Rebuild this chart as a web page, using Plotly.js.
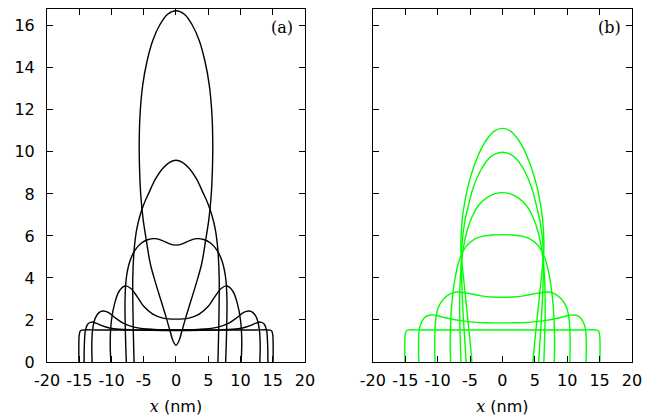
<!DOCTYPE html>
<html><head><meta charset="utf-8">
<script src="https://cdn.plot.ly/plotly-3.0.1.min.js"></script>
<style>html,body{margin:0;padding:0;background:#fff}</style>
</head><body><div id="chart" style="width:660px;height:420px"></div>
<script>
// ---- Panel (a) profiles (black) ----
const a1x = [-15.05,-15.0,-14.85,-14.6,-12,-8,-4,0,4,8,12,14.6,14.85,15.0,15.05];
const a1y = [0,1.3,1.47,1.52,1.52,1.52,1.52,1.52,1.52,1.52,1.52,1.52,1.47,1.3,0];
const a2x = [-14.25,-14.2,-14.05,-13.7,-13.1,-12.4,-11.5,-10.3,-8.8,-7,-4.5,-2,0,2,4.5,7,8.8,10.3,11.5,12.4,13.1,13.7,14.05,14.2,14.25];
const a2y = [0,0.9,1.5,1.8,1.9,1.85,1.73,1.62,1.56,1.53,1.51,1.5,1.5,1.5,1.51,1.53,1.56,1.62,1.73,1.85,1.9,1.8,1.5,0.9,0];
const a3x = [-13.0,-13.05,-12.9,-12.5,-11.9,-11.3,-10.5,-9.5,-8.2,-6.5,-4.5,-2.5,0,2.5,4.5,6.5,8.2,9.5,10.5,11.3,11.9,12.5,12.9,13.05,13.0];
const a3y = [0,0.9,1.6,2.1,2.36,2.43,2.36,2.12,1.85,1.66,1.57,1.54,1.53,1.54,1.57,1.66,1.85,2.12,2.36,2.43,2.36,2.1,1.6,0.9,0];
const a4x = [-10.1,-10.2,-10.0,-9.5,-8.8,-7.9,-7.0,-6.0,-5.0,-3.6,-2.0,0,2.0,3.6,5.0,6.0,7.0,7.9,8.8,9.5,10.0,10.2,10.1];
const a4y = [0,1.0,2.0,2.8,3.38,3.62,3.5,3.1,2.65,2.28,2.09,2.04,2.09,2.28,2.65,3.1,3.5,3.62,3.38,2.8,2.0,1.0,0];
const a5x = [-7.7,-7.85,-7.9,-7.7,-7.2,-6.4,-5.4,-4.3,-3.2,-2.1,-1.0,0,1.0,2.1,3.2,4.3,5.4,6.4,7.2,7.7,7.9,7.85,7.7];
const a5y = [0,1.5,3.0,4.0,4.75,5.3,5.65,5.83,5.87,5.78,5.62,5.56,5.62,5.78,5.87,5.83,5.65,5.3,4.75,4.0,3.0,1.5,0];
const a6x = [-6.5,-6.65,-6.7,-6.5,-6.1,-5.6,-5.0,-4.2,-3.2,-2.1,-1.0,0,1.0,2.1,3.2,4.2,5.0,5.6,6.1,6.5,6.7,6.65,6.5];
const a6y = [0,2.0,4.0,5.3,6.3,6.95,7.5,8.05,8.7,9.2,9.5,9.6,9.5,9.2,8.7,8.05,7.5,6.95,6.3,5.3,4.0,2.0,0];
const a7x = [0,-0.45,-0.9,-1.5,-2.3,-3.2,-4.0,-4.6,-5.1,-5.45,-5.65,-5.7,-5.55,-5.15,-4.5,-3.6,-2.5,-1.3,0,1.3,2.5,3.6,4.5,5.15,5.55,5.7,5.65,5.45,5.1,4.6,4.0,3.2,2.3,1.5,0.9,0.45,0];
const a7y = [0.8,1.0,1.45,2.1,2.9,3.8,4.7,5.8,6.8,7.9,9.2,10.5,11.9,13.2,14.3,15.3,16.05,16.55,16.72,16.55,16.05,15.3,14.3,13.2,11.9,10.5,9.2,7.9,6.8,5.8,4.7,3.8,2.9,2.1,1.45,1.0,0.8];

// ---- Panel (b) profiles (green) ----
const b1x = [-15.05,-15.0,-14.85,-14.6,-12,-8,-4,0,4,8,12,14.6,14.85,15.0,15.05];
const b1y = [0,1.3,1.47,1.52,1.52,1.52,1.52,1.52,1.52,1.52,1.52,1.52,1.47,1.3,0];
const b2x = [-12.9,-12.95,-12.8,-12.4,-11.8,-11.0,-10.0,-8.5,-6.5,-4.5,-2.5,0,2.5,4.5,6.5,8.5,10.0,11.0,11.8,12.4,12.8,12.95,12.9];
const b2y = [0,0.9,1.6,1.95,2.17,2.24,2.2,2.08,1.97,1.9,1.87,1.86,1.87,1.9,1.97,2.08,2.2,2.24,2.17,1.95,1.6,0.9,0];
const b3x = [-10.4,-10.45,-10.3,-9.9,-9.1,-8.0,-7.0,-5.5,-3.5,-1.5,0,1.5,3.5,5.5,7.0,8.0,9.1,9.9,10.3,10.45,10.4];
const b3y = [0,1.0,2.0,2.6,3.0,3.25,3.33,3.28,3.16,3.09,3.08,3.09,3.16,3.28,3.33,3.25,3.0,2.6,2.0,1.0,0];
const b4x = [-8.0,-8.05,-7.8,-7.3,-6.6,-5.6,-4.3,-2.8,-1.3,0,1.3,2.8,4.3,5.6,6.6,7.3,7.8,8.05,8.0];
const b4y = [0,1.2,2.8,4.0,4.9,5.5,5.85,6.0,6.05,6.06,6.05,6.0,5.85,5.5,4.9,4.0,2.8,1.2,0];
const b5x = [-6.4,-6.5,-6.6,-6.5,-6.1,-5.5,-4.7,-3.7,-2.5,-1.2,0,1.2,2.5,3.7,4.7,5.5,6.1,6.5,6.6,6.5,6.4];
const b5y = [0,1.0,2.5,4.0,5.3,6.2,6.9,7.45,7.8,8.0,8.06,8.0,7.8,7.45,6.9,6.2,5.3,4.0,2.5,1.0,0];
const b6x = [-5.6,-5.8,-6.1,-6.3,-6.3,-5.8,-5.2,-4.5,-3.4,-2.2,-1.1,0,1.1,2.2,3.4,4.5,5.2,5.8,6.3,6.3,6.1,5.8,5.6];
const b6y = [0,1.0,2.5,4.0,5.4,6.7,7.5,8.3,9.1,9.65,9.9,9.98,9.9,9.65,9.1,8.3,7.5,6.7,5.4,4.0,2.5,1.0,0];
const b7x = [-4.7,-5.0,-5.5,-6.0,-6.4,-6.2,-5.7,-5.2,-4.4,-3.5,-2.4,-1.2,0,1.2,2.4,3.5,4.4,5.2,5.7,6.2,6.4,6.0,5.5,5.0,4.7];
const b7y = [0,1.0,2.5,4.0,5.4,6.8,7.8,8.5,9.3,10.0,10.6,11.0,11.12,11.0,10.6,10.0,9.3,8.5,7.8,6.8,5.4,4.0,2.5,1.0,0];

// ---- ticks ----
const xTickVals = [-20,-15,-10,-5,0,5,10,15,20];
const xTickText = ['-20','-15','-10','-5','0','5','10','15','20'];
const yTickVals = [0,2,4,6,8,10,12,14,16];
const yTickText = ['0','2','4','6','8','10','12','14','16'];

const aSets = [[a1x,a1y],[a2x,a2y],[a3x,a3y],[a4x,a4y],[a5x,a5y],[a6x,a6y],[a7x,a7y]];
const bSets = [[b1x,b1y],[b2x,b2y],[b3x,b3y],[b4x,b4y],[b5x,b5y],[b6x,b6y],[b7x,b7y]];

const traces = [];
aSets.forEach(s => traces.push({x:s[0], y:s[1], type:'scatter', mode:'lines', xaxis:'x', yaxis:'y',
  line:{color:'#000000', width:1.4, shape:'spline', smoothing:1}, hoverinfo:'skip', showlegend:false}));
bSets.forEach(s => traces.push({x:s[0], y:s[1], type:'scatter', mode:'lines', xaxis:'x2', yaxis:'y2',
  line:{color:'#00ff00', width:1.4, shape:'spline', smoothing:1}, hoverinfo:'skip', showlegend:false}));

const tickFont = {family:'DejaVu Sans', size:16, color:'#000'};
function xAxis(domain, anchor) {
  return {domain:domain, anchor:anchor, range:[-20,20], tickmode:'array', tickvals:xTickVals, ticktext:xTickText,
    ticks:'inside', ticklen:6, tickwidth:1, tickcolor:'#000', mirror:'allticks', showline:true, linecolor:'#000', linewidth:1,
    showgrid:false, zeroline:false, tickfont:tickFont, ticklabelstandoff:4,
    title:{text:'<span style="font-family:DejaVu Serif"><i>x</i></span> (nm)', font:{family:'DejaVu Sans', size:16, color:'#000'}, standoff:11}};
}
function yAxis(anchor, labels) {
  return {domain:[0,1], anchor:anchor, range:[0,16.8], tickmode:'array', tickvals:yTickVals, ticktext:yTickText,
    ticks:'inside', ticklen:6, tickwidth:1, tickcolor:'#000', mirror:'allticks', showline:true, linecolor:'#000', linewidth:1,
    showgrid:false, zeroline:false, tickfont:tickFont, showticklabels:labels, ticklabelstandoff:8};
}

const layout = {
  width:660, height:420,
  margin:{l:47, r:28, t:9, b:58},
  paper_bgcolor:'#fff', plot_bgcolor:'#fff',
  showlegend:false,
  xaxis: xAxis([0,0.441],'y'),
  yaxis: yAxis('x', true),
  xaxis2: xAxis([0.557,1],'y2'),
  yaxis2: yAxis('x2', false),
  annotations:[
    {text:'(a)', x:16.4, y:15.9, xref:'x', yref:'y', showarrow:false, xanchor:'center', yanchor:'middle',
     font:{family:'DejaVu Serif', size:16, color:'#000'}},
    {text:'(b)', x:16.5, y:15.9, xref:'x2', yref:'y2', showarrow:false, xanchor:'center', yanchor:'middle',
     font:{family:'DejaVu Serif', size:16, color:'#000'}}
  ]
};

Plotly.newPlot('chart', traces, layout, {staticPlot:true, displayModeBar:false});
</script></body></html>
